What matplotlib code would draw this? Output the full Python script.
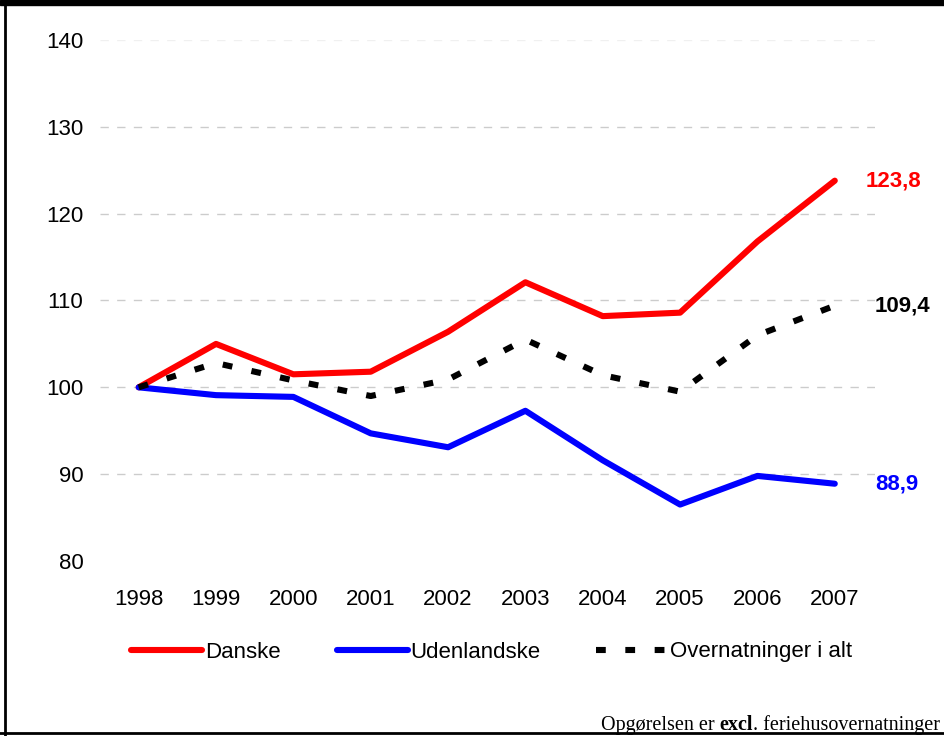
import matplotlib
matplotlib.use("Agg")
import matplotlib.pyplot as plt
from matplotlib.lines import Line2D
from matplotlib.patches import Rectangle

years = [1998, 1999, 2000, 2001, 2002, 2003, 2004, 2005, 2006, 2007]
danske = [100.0, 105.0, 101.5, 101.8, 106.4, 112.1, 108.2, 108.6, 116.8, 123.8]
udenlandske = [100.0, 99.1, 98.9, 94.7, 93.1, 97.3, 91.6, 86.5, 89.8, 88.9]
i_alt = [100.0, 102.8, 100.8, 99.0, 100.9, 105.5, 101.4, 99.5, 106.0, 109.4]
series_names = ["Danske", "Udenlandske", "Overnatninger i alt"]
end_labels = ["123,8", "88,9", "109,4"]
yticks = [80, 90, 100, 110, 120, 130, 140]

plt.rcParams['font.family'] = ['Liberation Sans', 'DejaVu Sans']

fig = plt.figure(figsize=(9.44, 7.36), dpi=100)
ax = fig.add_axes([100/944, 1-561/736, 775/944, (561-40)/736])

ax.set_xlim(1997.5, 2007.52)
ax.set_ylim(80, 140)

for y in yticks[1:-1]:
    ax.axhline(y, color='#cccccc', lw=1.0, dashes=(6, 6), zorder=1)
ax.axhline(140, color='#f0f0f0', lw=1.0, dashes=(6, 6), zorder=1)

lw = 4.4
ax.plot(years, danske, color='#ff0000', lw=lw, solid_capstyle='round', zorder=3)
ax.plot(years, udenlandske, color='#0000ff', lw=lw, solid_capstyle='round', zorder=3)
ax.plot(years, i_alt, color='black', lw=lw, dashes=(1.6, 3.2), dash_capstyle='butt', zorder=4)

fs = 16
ax.set_yticks(yticks)
ax.set_yticklabels([str(v) for v in yticks], fontsize=fs)
ax.set_xticks(years)
ax.set_xticklabels([str(y) for y in years], fontsize=fs)
ax.tick_params(axis='both', length=0)
ax.tick_params(axis='y', pad=12)
ax.tick_params(axis='x', pad=20)
for s in ax.spines.values():
    s.set_visible(False)

ax.annotate(end_labels[0], xy=(years[-1], danske[-1]), xytext=(22, 0), textcoords='offset points',
            color='#ff0000', fontsize=fs, fontweight='bold', va='center', ha='left')
ax.annotate(end_labels[2], xy=(years[-1], i_alt[-1]), xytext=(29, 0), textcoords='offset points',
            color='black', fontsize=fs, fontweight='bold', va='center', ha='left')
ax.annotate(end_labels[1], xy=(years[-1], udenlandske[-1]), xytext=(29, 0), textcoords='offset points',
            color='#0000ff', fontsize=fs, fontweight='bold', va='center', ha='left')

handles = [
    Line2D([], [], color='#ff0000', lw=lw, solid_capstyle='round'),
    Line2D([], [], color='#0000ff', lw=lw, solid_capstyle='round'),
    Line2D([], [], color='black', lw=lw, dashes=(1.6, 3.2)),
]
fig.legend(handles, series_names, loc='center', bbox_to_anchor=(0.521, 1-652/736), ncol=3,
           frameon=False, fontsize=fs, handlelength=3.2, handletextpad=0.13, columnspacing=2.5)

# frame and top band
fig.patches.append(Rectangle((0, 1-5/736), 1, 5/736, transform=fig.transFigure, color='black', zorder=5))
fig.add_artist(Line2D([5/944, 5/944], [0, 1], transform=fig.transFigure, color='black', lw=2))
fig.add_artist(Line2D([0, 1], [3/736, 3/736], transform=fig.transFigure, color='black', lw=2))

ffs = 14.5
t1 = fig.text(0, 0, "Opgørelsen er ", fontsize=ffs, family='Liberation Serif', va='baseline')
t2 = fig.text(0, 0, "excl", fontsize=ffs, family='Liberation Serif', fontweight='bold', va='baseline')
t3 = fig.text(0, 0, ". feriehusovernatninger", fontsize=ffs, family='Liberation Serif', va='baseline')
fig.canvas.draw()
r = fig.canvas.get_renderer()
w1 = t1.get_window_extent(r).width
w2 = t2.get_window_extent(r).width
w3 = t3.get_window_extent(r).width
right = 940
base = 736 - 730
x0 = right - (w1 + w2 + w3)
t1.set_position((x0/944, base/736))
t2.set_position(((x0 + w1)/944, base/736))
t3.set_position(((x0 + w1 + w2)/944, base/736))

fig.savefig("out.png", dpi=100)
